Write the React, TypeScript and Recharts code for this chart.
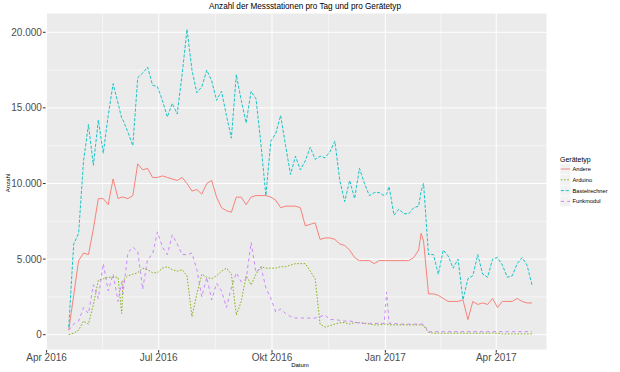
import { LineChart, Line, XAxis, YAxis, CartesianGrid, ReferenceLine } from 'recharts';

// days since 1 Apr 2016
const days = [
  18, 22, 26, 30, 34, 38, 42, 46, 50, 54, 58, 61, 62, 66, 70, 74, 78, 82, 86, 90,
  94, 98, 102, 106, 110, 114, 118, 122, 126, 130, 134, 138, 142, 146, 150, 154, 158, 162, 166, 170,
  174, 178, 182, 186, 190, 194, 198, 202, 206, 210, 214, 218, 222, 226, 230, 234, 238, 242, 246, 250,
  254, 258, 262, 266, 270, 274, 276, 278, 282, 286, 290, 294, 298, 302, 304, 306,
  310, 314, 318, 322, 326, 330, 334, 338, 342, 346, 350, 354, 358, 362, 366, 370, 374, 378, 382, 386, 390, 394,
];

const andere = [
  300, 2600, 4900, 5400, 5300, 7000, 9000, 9000, 8600, 10300, 9000, 9100, 9100, 9000, 9200, 11300, 10900, 11000, 10400, 10400,
  10500, 10400, 10300, 10200, 10400, 10000, 9500, 9600, 9300, 10000, 10200, 9100, 8400, 8200, 8100, 9100, 9100, 8600, 9100, 9200,
  9200, 9200, 9100, 8900, 8400, 8500, 8500, 8500, 8400, 7200, 7300, 7400, 6300, 6400, 6400, 6300, 6000, 5900, 5600, 5100,
  4900, 4900, 4900, 4700, 4900, 4900, 4900, 4900, 4900, 4900, 4900, 4900, 5100, 5600, 6700, 6200,
  2700, 2700, 2600, 2400, 2200, 2200, 2200, 2300, 1000, 2200, 2000, 2100, 2000, 2400, 1800, 2200, 2200, 2200, 2400, 2200, 2100, 2100,
];

const arduino = [
  0, 100, 300, 900, 700, 2000, 3600, 3700, 3800, 3800, 3800, 1400, 3600, 3900, 4000, 4100, 4400, 4300, 4100, 4100,
  4400, 4500, 4300, 4200, 4300, 3900, 1200, 2700, 4000, 3800, 3700, 3900, 4200, 4400, 4000, 1300, 2200, 3900, 3300, 4000,
  4500, 4400, 4400, 4400, 4500, 4500, 4600, 4700, 4700, 4700, 4200, 3700, 700, 500, 600, 700, 800, 800, 700, 800,
  800, 750, 700, 650, 650, 700, 700, 650, 650, 650, 650, 650, 650, 650, 650, 600,
  150, 100, 100, 100, 100, 100, 100, 100, 100, 100, 100, 100, 100, 100, 100, 50, 50, 50, 50, 50, 50, 50,
];

const bastelrechner = [
  500, 6000, 6700, 11500, 13900, 11200, 14200, 12000, 14500, 16600, 15300, 14300, 14200, 13400, 12500, 17000, 17300, 17700, 16500, 16400,
  15500, 14400, 15300, 14600, 17200, 20200, 17500, 16000, 16400, 17500, 16800, 15500, 16100, 14500, 13000, 17200, 15500, 14000, 16100, 15600,
  12600, 9200, 12800, 13300, 14500, 12500, 10600, 11800, 10900, 11500, 12400, 11600, 11800, 11700, 12100, 12800, 10200, 8800, 10200, 9000,
  11000, 10000, 9200, 9400, 9400, 9200, 9300, 9800, 7900, 8300, 8000, 8000, 8400, 8500, 9500, 10000,
  5300, 5300, 4000, 5600, 5200, 4400, 5000, 2300, 3700, 3900, 5300, 4000, 3800, 5000, 5100, 4600, 3800, 3900, 4700, 5100, 4600, 3300,
];

const funkmodul = [
  300, 700, 900, 1800, 1400, 3300, 2400, 4700, 2900, 4000, 2200, 3500, 2700, 5400, 5800, 5500, 3000, 5000, 5300, 6800,
  5800, 5300, 6600, 6000, 5300, 5300, 5400, 4300, 2500, 3800, 2300, 3400, 2900, 1800, 3100, 4100, 3500, 3700, 6100, 4100,
  4500, 3100, 2400, 1500, 1700, 1400, 1200, 1100, 1100, 1100, 1100, 1100, 1200, 1300, 1000, 1000, 950, 900, 900, 850,
  750, 750, 750, 750, 750, 750, 2800, 750, 750, 700, 700, 700, 700, 700, 700, 700,
  200, 200, 200, 200, 200, 200, 200, 200, 200, 200, 200, 200, 200, 200, 200, 200, 200, 200, 200, 200, 200, 200,
];

const tickDays = [0, 91, 183, 275, 365];
const tickLabels = ['Apr 2016', 'Jul 2016', 'Okt 2016', 'Jan 2017', 'Apr 2017'];
const minorDays = [45.5, 137, 229, 320];
const yTicks = [0, 5000, 10000, 15000, 20000];
const yMinor = [2500, 7500, 12500, 17500];

const series = [
  { key: 'Andere', color: '#F8766D', dash: undefined },
  { key: 'Arduino', color: '#7CAE00', dash: '1.6 1.6' },
  { key: 'Bastelrechner', color: '#00BFC4', dash: '3.2 1.6' },
  { key: 'Funkmodul', color: '#C77CFF', dash: '3.2 3.2' },
];

const rows = days.map((day, i) => ({
  day,
  Andere: andere[i],
  Arduino: arduino[i],
  Bastelrechner: bastelrechner[i],
  Funkmodul: funkmodul[i],
}));

const font = '"Liberation Sans", Arial, sans-serif';

const fmtY = (v: number) => String(v).replace(/\B(?=(\d{3})+(?!\d))/g, '.');
const fmtX = (v: number) => tickLabels[tickDays.indexOf(v)] ?? '';

export default function App() {
  return (
    <div style={{ position: 'fixed', left: 0, top: 0, width: 620, height: 372, background: '#fff', fontFamily: font }}>
      <div style={{ position: 'absolute', left: 0, width: 610, top: 2, textAlign: 'center', fontSize: 8.2, color: '#000' }}>
        Anzahl der Messstationen pro Tag und pro Gerätetyp
      </div>
      <LineChart width={620} height={372} data={rows} margin={{ top: 13, right: 73, bottom: 0, left: 0 }}>
        <CartesianGrid fill="#EBEBEB" stroke="#FFFFFF" strokeWidth={1} />
        {minorDays.map((d) => (
          <ReferenceLine key={'mx' + d} x={d} stroke="#FFFFFF" strokeWidth={0.5} />
        ))}
        {yMinor.map((v) => (
          <ReferenceLine key={'my' + v} y={v} stroke="#FFFFFF" strokeWidth={0.5} />
        ))}
        <XAxis
          type="number"
          dataKey="day"
          domain={[-0.8, 406.2]}
          ticks={tickDays}
          tickFormatter={fmtX}
          allowDataOverflow
          height={22}
          axisLine={false}
          tickSize={2.7}
          tickMargin={1}
          tickLine={{ stroke: '#333333' }}
          tick={{ fill: '#4D4D4D', fontSize: 10, fontFamily: font }}
          interval={0}
        />
        <YAxis
          domain={[-1012, 21276]}
          ticks={yTicks}
          tickFormatter={fmtY}
          allowDataOverflow
          width={45.6}
          axisLine={false}
          tickSize={2.7}
          tickMargin={1}
          tickLine={{ stroke: '#333333' }}
          tick={{ fill: '#4D4D4D', fontSize: 10, fontFamily: font }}
          interval={0}
          label={{
            content: () => (
              <text x={8} y={183} transform="rotate(-90 8 183)" textAnchor="middle" dominantBaseline="middle" fontSize={6} fontFamily={font} fill="#000">
                Anzahl
              </text>
            ),
          }}
        />
        {series.map((s) => (
          <Line
            key={s.key}
            dataKey={s.key}
            type="linear"
            stroke={s.color}
            strokeWidth={0.9}
            strokeDasharray={s.dash}
            dot={false}
            activeDot={false}
            isAnimationActive={false}
          />
        ))}
      </LineChart>
      <div style={{ position: 'absolute', left: 0, width: 600, top: 362, textAlign: 'center', fontSize: 6, color: '#000' }}>Datum</div>
      <svg style={{ position: 'absolute', left: 0, top: 0 }} width={620} height={372}>
        <text x={560} y={161.8} fontSize={7} fontFamily={font} fill="#000">Gerätetyp</text>
        {series.map((s, i) => {
          const cy = 169 + i * 10.8;
          return (
            <g key={s.key}>
              <rect x={560} y={cy - 5.4} width={10.8} height={10.8} fill="#F2F2F2" stroke="#FFFFFF" strokeWidth={0.5} />
              <line x1={560.8} x2={570} y1={cy} y2={cy} stroke={s.color} strokeWidth={0.9} strokeDasharray={s.dash} />
              <text x={572.5} y={cy + 2} fontSize={5.7} fontFamily={font} fill="#000">{s.key}</text>
            </g>
          );
        })}
      </svg>
    </div>
  );
}
